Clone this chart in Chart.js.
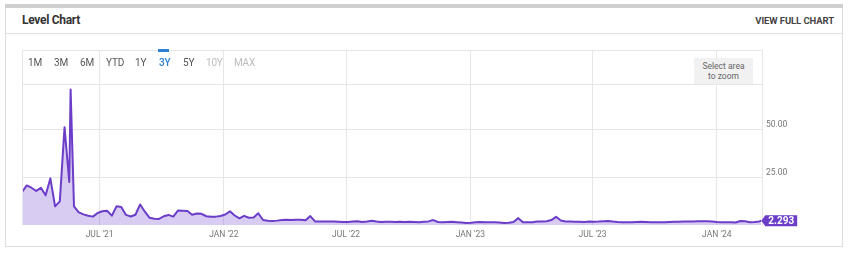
<!DOCTYPE html>
<html>
<head>
<meta charset="utf-8">
<script src="https://cdn.jsdelivr.net/npm/chart.js@4.4.1/dist/chart.umd.min.js"></script>
<style>
  html, body { margin: 0; padding: 0; background: #fff; width: 850px; height: 253px; overflow: hidden; font-family: Roboto, "Noto Sans", sans-serif; }
  .abs { position: absolute; }
  #topbar { left: 5px; top: 4px; width: 838px; height: 4px; background: #cfcfcf; }
  #panel { left: 5px; top: 8px; width: 836px; height: 238px; border: 1px solid #dedede; border-top: none; }
  #hsep { left: 6px; top: 33px; width: 836px; height: 1px; background: #e2e2e2; }
  #title { left: 22px; top: 12px; font-size: 12px; font-weight: 700; color: #333; letter-spacing: -0.3px; line-height: 16px; }
  #viewfull { right: 16px; top: 14px; font-size: 9.5px; font-weight: 700; color: #444; line-height: 14px; letter-spacing: -0.1px; }
  canvas#c { position: absolute; left: 0; top: 0; }
  .btn { top: 56px; font-size: 10px; color: #555; line-height: 13px; letter-spacing: -0.2px; }
  .off { color: #bbb; }
  .on { color: #2f7fd3; font-weight: 500; }
  #bar3y { left: 158px; top: 49px; width: 11px; height: 3px; background: #2f80d3; }
  #zoombox { left: 694px; top: 58px; width: 59px; height: 26px; background: #f1f1f1; color: #666; font-size: 8.5px; line-height: 10px; text-align: center; padding-top: 3px; box-sizing: border-box; }
</style>
</head>
<body>
<div id="topbar" class="abs"></div>
<div id="panel" class="abs"></div>
<div id="hsep" class="abs"></div>
<div id="title" class="abs">Level Chart</div>
<div id="viewfull" class="abs">VIEW FULL CHART</div>
<canvas id="c" width="850" height="253"></canvas>
<div id="bar3y" class="abs"></div>
<div class="abs btn" style="left:28px">1M</div>
<div class="abs btn" style="left:54px">3M</div>
<div class="abs btn" style="left:80px">6M</div>
<div class="abs btn" style="left:106px">YTD</div>
<div class="abs btn" style="left:135px">1Y</div>
<div class="abs btn on" style="left:159px">3Y</div>
<div class="abs btn" style="left:183px">5Y</div>
<div class="abs btn off" style="left:206px">10Y</div>
<div class="abs btn off" style="left:234px">MAX</div>
<div id="zoombox" class="abs">Select area<br>to zoom</div>
<script>
// ---- data ----
const DATES = [
  '2021-03-08','2021-03-15','2021-03-22','2021-03-29','2021-04-05','2021-04-12','2021-04-19','2021-04-26',
  '2021-05-03','2021-05-10','2021-05-17','2021-05-19','2021-05-24','2021-05-31','2021-06-07','2021-06-14',
  '2021-06-21','2021-06-28','2021-07-05','2021-07-12','2021-07-19','2021-07-26','2021-08-02','2021-08-09',
  '2021-08-16','2021-08-23','2021-08-30','2021-09-06','2021-09-13','2021-09-20','2021-09-27','2021-10-04',
  '2021-10-11','2021-10-18','2021-10-25','2021-11-01','2021-11-08','2021-11-15','2021-11-22','2021-11-29',
  '2021-12-06','2021-12-13','2021-12-20','2021-12-27',
  '2022-01-03','2022-01-10','2022-01-17','2022-01-24','2022-01-31','2022-02-07','2022-02-14','2022-02-21',
  '2022-02-28','2022-03-07','2022-03-14','2022-03-21','2022-03-28','2022-04-04','2022-04-11','2022-04-18',
  '2022-04-25','2022-05-02','2022-05-09','2022-05-16','2022-05-23','2022-05-30','2022-06-06','2022-06-13',
  '2022-06-20','2022-06-27','2022-07-04','2022-07-11','2022-07-18','2022-07-25','2022-08-01','2022-08-08',
  '2022-08-15','2022-08-22','2022-08-29','2022-09-05','2022-09-12','2022-09-19','2022-09-26','2022-10-03',
  '2022-10-10','2022-10-17','2022-10-24','2022-10-31','2022-11-07','2022-11-14','2022-11-21','2022-11-28',
  '2022-12-05','2022-12-12','2022-12-19','2022-12-26',
  '2023-01-02','2023-01-09','2023-01-16','2023-01-23','2023-01-30','2023-02-06','2023-02-13','2023-02-20',
  '2023-02-27','2023-03-06','2023-03-13','2023-03-20','2023-03-27','2023-04-03','2023-04-10','2023-04-17',
  '2023-04-24','2023-05-01','2023-05-08','2023-05-15','2023-05-22','2023-05-29','2023-06-05','2023-06-12',
  '2023-06-19','2023-06-26','2023-07-03','2023-07-10','2023-07-17','2023-07-24','2023-07-31','2023-08-07',
  '2023-08-14','2023-08-21','2023-08-28','2023-09-04','2023-09-11','2023-09-18','2023-09-25','2023-10-02',
  '2023-10-09','2023-10-16','2023-10-23','2023-10-30','2023-11-06','2023-11-13','2023-11-20','2023-11-27',
  '2023-12-04','2023-12-11','2023-12-18','2023-12-25',
  '2024-01-01','2024-01-08','2024-01-15','2024-01-22','2024-01-29','2024-02-05','2024-02-12','2024-02-19',
  '2024-02-26','2024-03-04','2024-03-07'
];
const LEVELS = [
  17.2, 20.8, 19.6, 17.9, 19.5, 15.6, 24.5, 9.8,
  12.4, 51.4, 22.6, 71.2, 9.8, 6.6, 5.6, 4.9,
  4.4, 6.3, 7.2, 7.5, 4.9, 9.8, 9.5, 5.3,
  4.5, 5.4, 10.8, 7.0, 3.8, 3.3, 3.2, 4.6,
  5.3, 4.4, 7.6, 7.5, 7.4, 5.4, 6.0, 5.9,
  4.6, 4.4, 4.4, 4.7,
  5.5, 7.2, 5.0, 3.5, 4.8, 3.8, 3.9, 6.2,
  2.6, 2.2, 2.1, 2.3, 2.6, 2.8, 2.6, 2.8,
  2.8, 2.5, 4.7, 1.9, 1.8, 1.8, 1.8, 1.8,
  1.7, 1.6, 1.6, 1.8, 2.0, 1.6, 1.8, 2.2,
  1.8, 1.6, 1.7, 1.7, 1.6, 1.7, 1.6, 1.7,
  1.6, 1.5, 1.7, 1.9, 2.6, 1.6, 1.5, 1.6,
  1.7, 1.5, 1.3, 1.1,
  1.2, 1.4, 1.6, 1.5, 1.4, 1.5, 1.3, 1.1,
  1.2, 1.6, 3.6, 1.5, 1.4, 1.5, 1.8, 1.9,
  2.0, 2.6, 4.3, 2.4, 1.8, 1.9, 1.7, 1.7,
  1.6, 1.8, 1.7, 1.8, 2.0, 2.1, 1.8, 1.6,
  1.5, 1.4, 1.5, 1.6, 1.7, 1.6, 1.5, 1.4,
  1.4, 1.5, 1.6, 1.7, 1.7, 1.8, 1.9, 1.9,
  2.0, 2.0, 2.0, 1.8,
  1.6, 1.5, 1.5, 1.4, 1.3, 2.1, 2.0, 1.5,
  1.6, 1.9, 2.293
];
const TICK_DATES = ['2021-07-01','2022-01-01','2022-07-01','2023-01-01','2023-07-01','2024-01-01'];
const TICK_LABELS = ["JUL '21","JAN '22","JUL '22","JAN '23","JUL '23","JAN '24"];
const Y_TICKS = [25, 50];
const X_RANGE = ['2021-03-08', '2024-03-08'];
const Y_RANGE = [0, 92];

function day(s) { const p = s.split('-').map(Number); return Date.UTC(p[0], p[1] - 1, p[2]) / 86400000; }

const GRID = '#e6e6e6';
const LINE = '#6b3dc8';

const framePlugin = {
  id: 'frame',
  afterDatasetsDraw(chart) {
    const { ctx, chartArea: a } = chart;
    ctx.save();
    ctx.strokeStyle = GRID;
    ctx.lineWidth = 1;
    ctx.beginPath();
    ctx.moveTo(a.left, a.top + 0.5); ctx.lineTo(a.right, a.top + 0.5);
    ctx.moveTo(a.left + 0.5, a.top); ctx.lineTo(a.left + 0.5, a.bottom);
    ctx.moveTo(a.left, a.top + 34.5); ctx.lineTo(a.right, a.top + 34.5);
    ctx.stroke();
    // last value label
    const meta = chart.getDatasetMeta(0);
    const last = meta.data[meta.data.length - 1];
    const val = LEVELS[LEVELS.length - 1];
    const x = last.x, y = last.y;
    ctx.font = 'bold 10px Roboto';
    const txt = val.toFixed(3);
    const w = ctx.measureText(txt).width + 6, h = 11;
    const bx = x + 4;
    ctx.fillStyle = LINE;
    ctx.beginPath();
    ctx.moveTo(x, y);
    ctx.lineTo(bx, y - h / 2);
    ctx.lineTo(bx + w, y - h / 2);
    ctx.lineTo(bx + w, y + h / 2);
    ctx.lineTo(bx, y + h / 2);
    ctx.closePath();
    ctx.fill();
    ctx.fillStyle = '#fff';
    ctx.textBaseline = 'middle';
    ctx.textAlign = 'left';
    ctx.fillText(txt, bx + 3, y + 0.5);
    ctx.restore();
  }
};

new Chart(document.getElementById('c'), {
  type: 'line',
  data: {
    datasets: [{
      data: DATES.map((d, i) => ({ x: day(d), y: LEVELS[i] })),
      borderColor: LINE,
      borderWidth: 2,
      backgroundColor: 'rgba(128, 86, 212, 0.30)',
      fill: 'origin',
      pointRadius: 0,
      tension: 0,
      borderJoinStyle: 'round'
    }]
  },
  options: {
    responsive: false,
    animation: false,
    events: [],
    layout: { padding: { left: 22, top: 50, right: 0, bottom: 0 } },
    plugins: { legend: { display: false }, tooltip: { enabled: false } },
    scales: {
      x: {
        type: 'linear',
        min: day(X_RANGE[0]), max: day(X_RANGE[1]),
        afterBuildTicks: s => { s.ticks = TICK_DATES.map(d => ({ value: day(d) })); },
        afterFit: s => { s.height = 28; },
        ticks: {
          callback: (v, i) => TICK_LABELS[i],
          autoSkip: false, maxRotation: 0, padding: 5,
          color: '#777', font: { family: 'Roboto', size: 8.5 }
        },
        grid: { color: GRID, drawTicks: false },
        border: { display: false }
      },
      y: {
        position: 'right',
        min: Y_RANGE[0], max: Y_RANGE[1],
        afterBuildTicks: s => { s.ticks = Y_TICKS.map(v => ({ value: v })); },
        afterFit: s => { s.width = 88; },
        ticks: {
          callback: v => v.toFixed(2),
          padding: 4, labelOffset: -5,
          color: '#777', font: { family: 'Roboto', size: 8.5 }
        },
        grid: { color: GRID, drawTicks: false },
        border: { display: true, color: GRID }
      }
    }
  },
  plugins: [framePlugin]
});
</script>
</body>
</html>
